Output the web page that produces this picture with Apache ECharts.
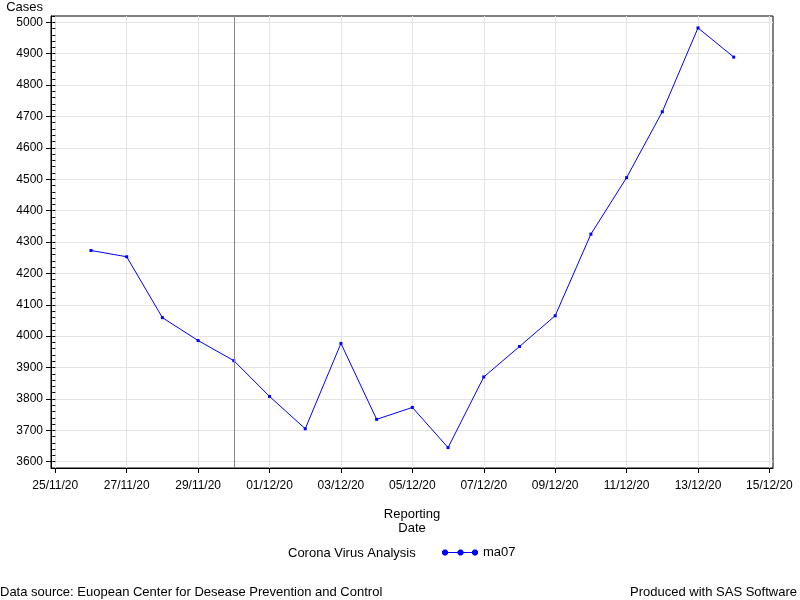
<!DOCTYPE html>
<html>
<head>
<meta charset="utf-8">
<script src="https://cdn.jsdelivr.net/npm/echarts@6/dist/echarts.min.js"></script>
<style>html,body{margin:0;padding:0;background:#fff}#chart{width:800px;height:600px}</style>
</head>
<body>
<div id="chart"></div>
<script>
// ---- data ----
var dates = ['26/11/20','27/11/20','28/11/20','29/11/20','30/11/20','01/12/20','02/12/20','03/12/20','04/12/20','05/12/20','06/12/20','07/12/20','08/12/20','09/12/20','10/12/20','11/12/20','12/12/20','13/12/20','14/12/20'];
var ma07 = [4273, 4253, 4059, 3986, 3922, 3808, 3705, 3977, 3735, 3773, 3645, 3870, 3967, 4065, 4325, 4505, 4715, 4982, 4889];
var xTickLabels = ['25/11/20','27/11/20','29/11/20','01/12/20','03/12/20','05/12/20','07/12/20','09/12/20','11/12/20','13/12/20','15/12/20'];
var yTickValues = [3600,3700,3800,3900,4000,4100,4200,4300,4400,4500,4600,4700,4800,4900,5000];
var refDate = '30/11/20';
var seriesName = 'ma07';
var legendTitle = 'Corona Virus Analysis';
var footLeft = 'Data source: Euopean Center for Desease Prevention and Control';
var footRight = 'Produced with SAS Software';

var DAY = 86400000;
function parseD(s){ var p = s.split('/'); return Date.UTC(2000 + (+p[2]), (+p[1]) - 1, +p[0]); }
var BASE = parseD(xTickLabels[0]);
function dayOf(s){ return Math.round((parseD(s) - BASE) / DAY); }
function fmt(v){ var i = Math.round(v / 2); return xTickLabels[i] !== undefined ? xTickLabels[i] : ''; }

var xTicks = xTickLabels.map(dayOf);
var xMin = xTicks[0] - 0.12;
var xMax = xTicks[xTicks.length-1] + 0.10;
var seriesData = dates.map(function(d,i){ return [dayOf(d), ma07[i]]; });

// legend glyph: line with three dots (octagons)
function dot(cx){ return 'M'+(cx-1.2)+',0L'+(cx+1.2)+',0L'+(cx+3)+',1.8L'+(cx+3)+',4.2L'+(cx+1.2)+',6L'+(cx-1.2)+',6L'+(cx-3)+',4.2L'+(cx-3)+',1.8Z'; }
var legendIcon = 'path://' + dot(3) + dot(18.5) + dot(33) + 'M3,2.5L33,2.5L33,3.5L3,3.5Z';

var FONT = 'Liberation Sans, Arial, sans-serif';
var chart = echarts.init(document.getElementById('chart'), null, {renderer:'canvas'});
chart.setOption({
  animation: false,
  backgroundColor: '#fff',
  textStyle: {fontFamily: FONT, color: '#000'},
  grid: {left: 51, right: 27, top: 16, bottom: 132, show: true, borderColor: '#000', borderWidth: 1, containLabel: false},
  xAxis: {
    type: 'value', min: xMin, max: xMax,
    name: 'Reporting\nDate', nameLocation: 'middle', nameGap: 39,
    nameTextStyle: {fontFamily: FONT, fontSize: 13, color: '#000', lineHeight: 14.5},
    axisLine: {show: true, onZero: false, lineStyle: {color: '#000', width: 1}},
    axisTick: {show: true, length: 5, lineStyle: {color: '#000'}, customValues: xTicks},
    axisLabel: {show: true, margin: 12, fontSize: 12, color: '#000', fontFamily: FONT, customValues: xTicks, formatter: function(v){ return fmt(v); }},
    splitLine: {show: true, lineStyle: {color: '#e4e4e4', width: 1}}
  },
  yAxis: [{
    type: 'value', min: 3580, max: 5020,
    name: 'Cases', nameLocation: 'end', nameGap: 2,
    nameTextStyle: {fontFamily: FONT, fontSize: 13, color: '#000', align: 'right', padding: [0, 8, 0, 0]},
    axisLine: {show: true, onZero: false, lineStyle: {color: '#000', width: 1}},
    axisTick: {show: true, length: 5, lineStyle: {color: '#000'}, customValues: yTickValues},
    axisLabel: {show: true, margin: 8, fontSize: 12, color: '#000', fontFamily: FONT, customValues: yTickValues, formatter: function(v){ return String(v); }},
    splitLine: {show: true, lineStyle: {color: '#e4e4e4', width: 1}}
  }, {
    type: 'value', min: 3580, max: 5020, interval: 20, position: 'left', offset: 0,
    axisLine: {show: false},
    axisTick: {show: true, length: 3, lineStyle: {color: '#000'}},
    axisLabel: {show: false},
    splitLine: {show: false}
  }],
  legend: {
    show: true, left: 442, top: 546, padding: 0,
    data: [seriesName],
    itemWidth: 36, itemHeight: 6, itemGap: 6,
    icon: legendIcon,
    itemStyle: {color: '#0000ff', borderColor: '#0000ff', borderWidth: 0},
    lineStyle: {width: 0},
    textStyle: {fontFamily: FONT, fontSize: 13, color: '#000'},
    selectedMode: false
  },
  graphic: [
    {type: 'text', x: 288, y: 553, style: {text: legendTitle, font: '13px ' + FONT, fill: '#000', verticalAlign: 'middle'}},
    {type: 'text', x: 0, y: 592, style: {text: footLeft, font: '13px ' + FONT, fill: '#000', verticalAlign: 'middle'}},
    {type: 'text', x: 797, y: 592, style: {text: footRight, font: '13px ' + FONT, fill: '#000', verticalAlign: 'middle', align: 'right'}}
  ],
  series: [{
    name: seriesName, type: 'line', data: seriesData,
    symbol: 'rect', symbolSize: 3, showSymbol: true,
    itemStyle: {color: '#0000ff'},
    lineStyle: {color: '#0000ff', width: 1},
    markLine: {
      silent: true, symbol: ['none','none'], label: {show: false},
      lineStyle: {color: '#888888', width: 1, type: 'solid'},
      data: [{xAxis: dayOf(refDate)}]
    }
  }]
});
</script>
</body>
</html>
